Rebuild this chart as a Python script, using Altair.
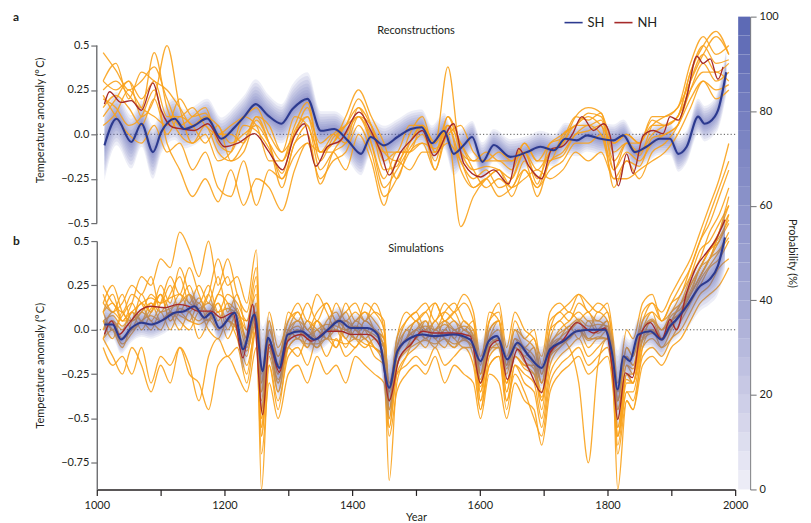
import altair as alt
import pandas as pd

ORANGE = "#f9a21b"
NAVY = "#2c3a8f"
RED = "#a52a2a"
BAND = "#5a66b3"
GRAY = "#6d6e71"
INK = "#231f20"
FONT = "Lato"

# ---------------- panel a : reconstructions ----------------
A_GRID = list(range(1010, 1991, 20))
A_RECON = {
    "R1": [0.46, 0.36, 0.25, 0.30, 0.38, 0.20, 0.05, 0.10, 0.15, -0.05,
           -0.10, 0.05, 0.02, -0.08, -0.22, 0.02, 0.10, -0.15, -0.02, 0.05,
           0.20, 0.05, -0.20, -0.18, 0.00, 0.10, -0.10, 0.05, -0.15, -0.25,
           -0.20, -0.30, -0.25, -0.10, -0.28, -0.05, -0.02, 0.10, 0.08, 0.12,
           -0.20, -0.05, -0.12, 0.05, 0.10, 0.15, 0.40, 0.55, 0.45, 0.50],
    "R2": [0.25, 0.30, 0.22, 0.15, 0.46, 0.15, 0.00, -0.05, 0.05, -0.10,
           -0.15, -0.10, 0.08, -0.05, -0.25, -0.05, 0.05, -0.20, -0.10, -0.05,
           0.15, -0.05, -0.30, -0.20, -0.08, 0.00, -0.15, 0.10, -0.05, -0.20,
           -0.30, -0.25, -0.30, -0.15, -0.35, -0.15, -0.10, 0.00, 0.05, 0.00,
           -0.25, -0.15, -0.18, -0.02, 0.00, 0.05, 0.30, 0.45, 0.35, 0.40],
    "R3": [0.10, 0.20, 0.30, 0.10, 0.20, 0.50, 0.15, -0.05, 0.00, -0.15,
           -0.10, 0.10, 0.05, -0.15, -0.15, 0.05, 0.18, -0.10, -0.05, 0.10,
           0.25, 0.10, -0.05, -0.25, -0.05, 0.05, -0.05, 0.38, -0.10, -0.15,
           -0.15, -0.15, -0.20, -0.05, -0.15, -0.15, 0.00, 0.05, 0.12, 0.10,
           -0.10, -0.05, -0.05, 0.08, 0.05, 0.10, 0.35, 0.50, 0.58, 0.45],
    "R4": [0.20, 0.15, 0.05, 0.10, 0.25, -0.05, -0.20, -0.35, -0.25, -0.38,
           -0.20, -0.40, -0.25, -0.30, -0.43, -0.20, -0.05, -0.25, -0.15, -0.10,
           0.05, -0.10, -0.35, -0.25, -0.10, -0.05, -0.20, 0.00, -0.52, -0.35,
           -0.25, -0.20, -0.35, -0.20, -0.30, -0.20, -0.15, -0.05, -0.05, 0.00,
           -0.20, -0.10, -0.15, -0.05, 0.00, 0.05, 0.20, 0.30, 0.20, 0.25],
    "R5": [0.30, 0.25, 0.30, 0.20, 0.30, 0.10, 0.10, 0.15, 0.05, 0.00,
           0.05, 0.10, 0.15, 0.00, -0.10, 0.10, 0.05, -0.10, 0.00, 0.05,
           0.10, 0.00, -0.10, -0.10, 0.05, 0.05, -0.05, 0.05, -0.05, -0.15,
           -0.10, -0.15, -0.15, -0.05, -0.15, -0.05, 0.00, 0.05, 0.10, 0.05,
           -0.05, 0.00, -0.05, 0.05, 0.05, 0.10, 0.25, 0.35, 0.35, 0.30],
    "R6": [0.15, 0.22, 0.15, 0.05, 0.20, 0.00, 0.10, 0.05, -0.05, 0.05,
           -0.15, -0.05, 0.10, -0.05, -0.30, -0.05, 0.00, -0.28, -0.10, 0.00,
           0.10, -0.05, -0.25, -0.10, -0.10, 0.05, -0.20, 0.05, -0.20, -0.30,
           -0.25, -0.35, -0.30, -0.20, -0.30, -0.15, -0.12, 0.00, 0.02, 0.05,
           -0.30, -0.15, -0.25, -0.10, -0.05, 0.05, 0.25, 0.40, 0.30, 0.35],
    "R7": [0.05, 0.12, 0.25, 0.15, 0.10, 0.05, 0.20, 0.10, 0.12, 0.00,
           0.00, -0.05, 0.10, 0.05, -0.10, 0.00, 0.10, -0.05, 0.00, -0.05,
           0.10, 0.05, -0.15, -0.10, -0.10, -0.05, -0.08, 0.00, 0.05, -0.10,
           -0.15, -0.10, -0.15, -0.10, -0.25, -0.10, -0.05, 0.10, 0.15, 0.12,
           -0.05, 0.00, -0.05, 0.10, 0.10, 0.15, 0.30, 0.45, 0.55, 0.45],
    "R8": [0.22, 0.10, 0.00, -0.05, 0.05, -0.10, -0.05, -0.20, -0.10, -0.30,
           -0.35, -0.15, -0.40, -0.20, -0.25, -0.12, -0.05, -0.10, -0.10, -0.20,
           0.00, -0.15, -0.40, -0.15, -0.20, -0.10, -0.10, -0.05, -0.15, -0.30,
           -0.25, -0.20, -0.30, -0.25, -0.20, -0.25, -0.20, -0.10, -0.15, -0.10,
           -0.25, -0.25, -0.20, -0.15, -0.10, 0.00, 0.15, 0.30, 0.25, 0.28],
    "R9": [0.30, 0.40, 0.20, 0.35, 0.30, 0.25, 0.15, 0.05, 0.10, 0.05,
           -0.05, 0.00, 0.05, -0.05, -0.15, 0.00, 0.15, -0.10, -0.05, 0.05,
           0.15, 0.05, -0.10, -0.15, -0.05, 0.05, -0.10, 0.10, -0.10, -0.20,
           -0.18, -0.20, -0.25, -0.10, -0.20, -0.10, -0.05, 0.05, 0.05, 0.08,
           -0.15, -0.05, -0.10, 0.00, 0.05, 0.10, 0.35, 0.50, 0.40, 0.42],
}
A_SH_YEARS = [1012, 1031, 1054, 1070, 1088, 1101, 1122, 1137, 1153, 1173,
              1195, 1216, 1231, 1249, 1268, 1289, 1307, 1330, 1351, 1372,
              1393, 1414, 1429, 1450, 1471, 1492, 1509, 1525, 1544, 1559,
              1575, 1588, 1604, 1622, 1648, 1674, 1695, 1716, 1734, 1752,
              1768, 1789, 1809, 1825, 1843, 1861, 1882, 1898, 1911, 1924,
              1942, 1952, 1968, 1973, 1986]
A_SH = [-0.062, 0.088, -0.043, 0.06, -0.10, 0.013, 0.088, 0.03, 0.05, 0.09,
        -0.025, 0.04, 0.10, 0.17, 0.107, 0.06, 0.144, 0.20, 0.02, 0.03,
        -0.034, -0.11, -0.015, -0.062, -0.015, 0.03, 0.04, -0.05, 0.02, -0.11,
        -0.06, -0.015, -0.155, -0.06, -0.127, -0.10, -0.07, -0.09, -0.025, -0.034,
        -0.006, -0.025, -0.034, -0.006, -0.10, -0.07, -0.025, -0.025, -0.11, -0.07,
        0.10, 0.06, 0.10, 0.135, 0.35]
A_SH_SPREAD = [0.20, 0.15, 0.15, 0.13, 0.15, 0.12, 0.12, 0.11, 0.11, 0.11,
               0.12, 0.12, 0.12, 0.14, 0.12, 0.11, 0.14, 0.15, 0.11, 0.10,
               0.11, 0.12, 0.10, 0.11, 0.10, 0.10, 0.10, 0.10, 0.10, 0.12,
               0.10, 0.09, 0.11, 0.09, 0.10, 0.09, 0.09, 0.09, 0.09, 0.09,
               0.09, 0.09, 0.09, 0.09, 0.10, 0.09, 0.09, 0.09, 0.10, 0.09,
               0.10, 0.10, 0.10, 0.11, 0.13]
A_NH_YEARS = [1012, 1020, 1038, 1054, 1070, 1088, 1101, 1119, 1135, 1153,
              1174, 1200, 1221, 1247, 1268, 1291, 1309, 1325, 1343, 1361,
              1382, 1411, 1429, 1445, 1458, 1476, 1492, 1510, 1528, 1559,
              1575, 1601, 1622, 1645, 1661, 1677, 1697, 1713, 1728, 1744,
              1760, 1778, 1794, 1804, 1817, 1830, 1840, 1856, 1872, 1887,
              1898, 1911, 1924, 1940, 1950, 1961, 1973, 1981]
A_NH = [0.17, 0.24, 0.18, 0.19, 0.135, 0.29, 0.135, 0.04, 0.03, 0.022,
        0.06, -0.07, -0.05, 0.004, -0.09, -0.20, -0.015, 0.06, -0.18, -0.07,
        -0.034, 0.125, 0.022, -0.10, -0.23, -0.10, -0.034, 0.022, -0.12, 0.06,
        -0.165, -0.24, -0.20, -0.28, -0.08, -0.18, -0.25, -0.08, -0.07, -0.006,
        0.10, 0.022, 0.06, -0.006, -0.29, -0.11, -0.22, -0.006, 0.022, 0.004,
        0.10, 0.08, 0.21, 0.44, 0.40, 0.425, 0.31, 0.38]

# ---------------- panel b : simulations ----------------
B_GRID = [1010, 1025, 1040, 1055, 1070, 1085, 1100, 1115, 1130, 1145,
          1160, 1175, 1190, 1205, 1220, 1235, 1250, 1258, 1270, 1284,
          1300, 1315, 1330, 1345, 1360, 1375, 1390, 1405, 1420, 1435,
          1450, 1458, 1470, 1485, 1500, 1515, 1530, 1545, 1560, 1575,
          1590, 1601, 1615, 1630, 1642, 1655, 1670, 1685, 1697, 1710,
          1725, 1740, 1755, 1770, 1785, 1800, 1809, 1816, 1830, 1840,
          1855, 1870, 1885, 1900, 1915, 1930, 1945, 1960, 1975, 1990]
B_SIMS = {
    "S1": [0.10, 0.20, 0.05, 0.15, 0.30, 0.25, 0.40, 0.35, 0.55, 0.45,
           0.30, 0.50, 0.25, 0.40, 0.20, 0.10, 0.35, -0.30, 0.10, -0.10,
           0.05, 0.15, 0.05, 0.20, 0.10, 0.00, 0.15, 0.05, 0.10, 0.00,
           -0.05, -0.35, -0.05, 0.05, 0.10, 0.00, 0.15, 0.05, 0.10, 0.00,
           0.05, -0.25, 0.05, 0.10, -0.15, 0.00, -0.05, -0.10, -0.30, 0.00,
           0.10, 0.05, 0.15, 0.10, 0.05, 0.10, -0.10, -0.40, -0.10, -0.15,
           0.05, 0.15, 0.05, 0.15, 0.20, 0.35, 0.50, 0.60, 0.75, 0.90],
    "S2": [-0.10, -0.20, -0.15, -0.25, -0.10, -0.30, -0.15, -0.20, -0.10, -0.25,
           -0.30, -0.45, -0.20, -0.15, -0.25, -0.35, -0.10, -0.70, -0.30, -0.50,
           -0.25, -0.20, -0.30, -0.15, -0.25, -0.20, -0.30, -0.15, -0.20, -0.25,
           -0.30, -0.60, -0.35, -0.25, -0.20, -0.25, -0.15, -0.30, -0.20, -0.25,
           -0.30, -0.50, -0.25, -0.30, -0.50, -0.30, -0.40, -0.45, -0.65, -0.35,
           -0.25, -0.20, -0.15, -0.25, -0.20, -0.15, -0.35, -0.70, -0.40, -0.45,
           -0.20, -0.15, -0.20, -0.10, -0.05, 0.05, 0.15, 0.20, 0.25, 0.35],
    "S3": [0.05, 0.00, -0.10, 0.05, 0.15, 0.10, 0.20, 0.05, 0.15, 0.25,
           0.10, 0.05, 0.20, 0.15, 0.00, -0.15, 0.15, -0.55, -0.10, -0.30,
           -0.05, 0.00, -0.10, 0.05, 0.00, 0.05, -0.05, 0.05, 0.00, -0.10,
           -0.15, -0.50, -0.20, -0.10, 0.00, 0.05, -0.05, 0.05, 0.00, -0.05,
           -0.10, -0.35, -0.10, -0.05, -0.35, -0.15, -0.20, -0.25, -0.40, -0.15,
           -0.05, 0.00, 0.05, -0.05, 0.00, 0.05, -0.25, -0.60, -0.30, -0.30,
           -0.05, 0.05, -0.05, 0.05, 0.15, 0.30, 0.45, 0.50, 0.60, 0.70],
    "S4": [0.15, 0.10, 0.20, 0.05, 0.10, 0.20, 0.15, 0.25, 0.10, 0.20,
           0.15, 0.25, 0.10, 0.20, 0.15, 0.05, 0.20, -0.40, 0.00, -0.15,
           0.00, 0.05, 0.00, -0.05, 0.05, 0.10, 0.00, 0.05, 0.10, 0.05,
           -0.05, -0.45, -0.15, -0.05, 0.05, 0.00, 0.05, 0.10, 0.05, 0.00,
           -0.05, -0.30, 0.00, 0.05, -0.25, -0.05, -0.10, -0.15, -0.30, -0.10,
           0.00, 0.05, 0.10, 0.05, 0.05, 0.00, -0.20, -0.45, -0.20, -0.25,
           0.00, 0.05, 0.00, 0.10, 0.15, 0.25, 0.35, 0.45, 0.50, 0.65],
    "S5": [0.00, 0.05, 0.00, 0.10, 0.05, 0.15, 0.05, 0.10, 0.20, 0.10,
           0.05, 0.10, 0.00, 0.05, -0.05, -0.25, 0.05, -0.90, -0.20, -0.45,
           -0.10, -0.05, -0.10, 0.00, -0.05, 0.00, -0.10, 0.00, -0.05, -0.10,
           -0.20, -0.85, -0.30, -0.15, -0.05, -0.10, 0.00, -0.05, -0.10, -0.05,
           -0.15, -0.45, -0.15, -0.10, -0.40, -0.20, -0.25, -0.30, -0.50, -0.20,
           -0.10, -0.05, 0.00, -0.10, -0.05, -0.05, -0.30, -0.90, -0.40, -0.45,
           -0.10, 0.00, -0.10, 0.00, 0.10, 0.20, 0.30, 0.40, 0.50, 0.60],
    "S6": [0.20, 0.10, 0.15, 0.25, 0.20, 0.30, 0.10, 0.20, 0.30, 0.15,
           0.25, 0.15, 0.30, 0.10, 0.20, 0.00, 0.25, -0.35, 0.05, -0.20,
           0.10, 0.05, 0.15, 0.05, 0.15, 0.05, 0.10, 0.15, 0.05, 0.10,
           0.05, -0.40, -0.10, 0.05, 0.10, 0.15, 0.05, 0.15, 0.10, 0.15,
           0.05, -0.20, 0.10, 0.05, -0.20, 0.05, -0.05, 0.00, -0.20, 0.05,
           0.10, 0.15, 0.20, 0.10, 0.15, 0.10, -0.10, -0.40, -0.10, -0.15,
           0.10, 0.15, 0.10, 0.20, 0.30, 0.40, 0.55, 0.70, 0.85, 1.05],
    "S7": [-0.05, 0.05, -0.05, 0.00, 0.10, 0.05, 0.00, 0.10, 0.05, 0.00,
           0.10, 0.00, -0.05, 0.05, 0.00, -0.20, 0.00, -0.60, -0.15, -0.35,
           -0.10, -0.15, -0.05, -0.10, -0.05, -0.10, 0.00, -0.05, -0.10, -0.05,
           -0.15, -0.55, -0.25, -0.15, -0.10, -0.05, -0.10, 0.00, -0.05, -0.10,
           -0.10, -0.40, -0.20, -0.15, -0.45, -0.20, -0.30, -0.35, -0.55, -0.25,
           -0.15, -0.10, -0.05, -0.15, -0.10, -0.05, -0.30, -0.65, -0.35, -0.35,
           -0.10, -0.05, -0.10, -0.05, 0.05, 0.15, 0.25, 0.35, 0.40, 0.50],
    "S8": [0.10, 0.15, 0.05, 0.10, 0.00, 0.10, 0.20, 0.10, 0.00, 0.10,
           -0.05, 0.05, 0.15, 0.00, 0.10, -0.05, 0.10, -0.50, -0.05, -0.25,
           0.00, -0.05, 0.05, -0.05, 0.00, -0.10, 0.05, 0.00, -0.05, 0.00,
           -0.10, -0.45, -0.15, -0.05, 0.00, -0.05, 0.05, -0.05, -0.10, 0.00,
           -0.05, -0.30, -0.05, -0.10, -0.30, -0.10, -0.15, -0.20, -0.35, -0.10,
           -0.05, -0.10, -0.30, -0.75, -0.20, -0.05, -0.25, -0.55, -0.25, -0.30,
           -0.05, 0.05, 0.00, 0.05, 0.10, 0.20, 0.35, 0.40, 0.55, 0.70],
    "S9": [-0.05, -0.15, -0.25, -0.10, -0.20, -0.35, -0.20, -0.30, -0.10, -0.20,
           -0.40, -0.15, -0.05, -0.15, -0.10, -0.30, 0.00, -0.60, -0.20, -0.40,
           -0.15, -0.10, -0.20, -0.05, -0.15, -0.05, -0.15, -0.10, -0.05, -0.15,
           -0.20, -0.55, -0.25, -0.20, -0.15, -0.20, -0.10, -0.20, -0.15, -0.10,
           -0.20, -0.45, -0.20, -0.15, -0.40, -0.25, -0.35, -0.50, -0.60, -0.30,
           -0.20, -0.15, -0.10, -0.20, -0.15, -0.10, -0.30, -0.60, -0.35, -0.40,
           -0.15, -0.10, -0.15, -0.05, 0.00, 0.10, 0.20, 0.25, 0.35, 0.40],
    "S10": [0.25, 0.15, 0.10, 0.20, 0.15, 0.05, 0.15, 0.30, 0.20, 0.35,
            0.20, 0.10, 0.20, 0.30, 0.10, 0.05, 0.30, -0.30, 0.00, -0.15,
            0.05, 0.10, 0.00, 0.10, 0.15, 0.05, 0.10, 0.00, 0.15, 0.10,
            0.00, -0.35, -0.05, 0.10, 0.05, 0.10, 0.15, 0.05, 0.10, 0.20,
            0.10, -0.15, 0.05, 0.15, -0.10, 0.10, 0.00, -0.05, -0.15, 0.10,
            0.15, 0.10, 0.20, 0.15, 0.10, 0.15, -0.05, -0.30, 0.00, -0.05,
            0.15, 0.20, 0.05, 0.15, 0.25, 0.35, 0.50, 0.65, 0.80, 0.95],
    "S11": [0.05, -0.05, 0.10, 0.00, 0.05, 0.00, 0.10, 0.00, 0.10, 0.05,
            0.15, 0.05, 0.10, -0.05, 0.05, -0.10, 0.10, -0.45, -0.10, -0.30,
            -0.05, 0.00, -0.05, -0.10, 0.00, 0.00, -0.05, -0.10, 0.00, -0.05,
            -0.10, -0.40, -0.20, -0.10, -0.05, 0.00, -0.05, -0.10, 0.00, -0.05,
            -0.05, -0.35, -0.10, -0.10, -0.30, -0.15, -0.20, -0.20, -0.40, -0.15,
            -0.10, -0.05, 0.00, -0.05, -0.05, 0.00, -0.20, -0.50, -0.25, -0.25,
            -0.05, 0.00, -0.05, 0.05, 0.10, 0.20, 0.30, 0.40, 0.45, 0.55],
    "S12": [0.15, 0.25, 0.10, 0.05, 0.20, 0.10, 0.25, 0.15, 0.35, 0.20,
            0.10, 0.20, 0.40, 0.25, 0.30, 0.15, 0.45, -0.25, 0.05, -0.20,
            0.00, 0.10, 0.00, 0.05, 0.00, 0.15, 0.05, 0.10, 0.05, 0.15,
            0.00, -0.30, -0.10, 0.00, 0.05, 0.10, 0.00, 0.10, 0.15, 0.05,
            0.00, -0.25, 0.00, 0.05, -0.20, 0.00, -0.10, -0.05, -0.25, 0.00,
            0.05, 0.10, 0.05, 0.00, 0.10, 0.05, -0.15, -0.35, -0.15, -0.20,
            0.05, 0.10, 0.05, 0.10, 0.20, 0.30, 0.40, 0.55, 0.65, 0.80],
    "S13": [0.05, 0.08, 0.02, 0.10, 0.15, 0.18, 0.15, 0.18, 0.20, 0.15,
            0.12, 0.15, 0.10, 0.12, 0.08, -0.05, 0.15, -0.45, -0.05, -0.20,
            -0.02, 0.02, -0.03, 0.00, 0.03, 0.02, 0.00, 0.02, 0.00, -0.03,
            -0.08, -0.40, -0.12, -0.05, 0.00, 0.02, 0.00, 0.03, 0.00, 0.02,
            -0.03, -0.28, -0.05, 0.00, -0.22, -0.08, -0.12, -0.18, -0.30, -0.08,
            -0.02, 0.02, 0.06, 0.02, 0.03, 0.02, -0.18, -0.45, -0.20, -0.22,
            0.00, 0.06, 0.00, 0.08, 0.12, 0.22, 0.35, 0.45, 0.52, 0.62],
    "S14": [-0.05, 0.00, -0.08, -0.02, 0.05, 0.08, 0.05, 0.10, 0.08, 0.05,
            0.03, 0.06, 0.00, 0.05, 0.00, -0.12, 0.05, -0.50, -0.12, -0.28,
            -0.10, -0.05, -0.08, -0.08, -0.05, -0.06, -0.08, -0.05, -0.08, -0.10,
            -0.15, -0.45, -0.20, -0.12, -0.08, -0.06, -0.08, -0.05, -0.08, -0.06,
            -0.10, -0.32, -0.12, -0.08, -0.30, -0.15, -0.22, -0.25, -0.38, -0.15,
            -0.08, -0.05, 0.00, -0.06, -0.04, -0.05, -0.22, -0.55, -0.28, -0.30,
            -0.06, -0.02, -0.06, 0.02, 0.08, 0.16, 0.28, 0.36, 0.44, 0.52],
    "S15": [0.00, 0.10, 0.05, 0.05, 0.10, 0.15, 0.10, 0.12, 0.15, 0.20,
            0.10, 0.20, 0.05, 0.15, 0.10, 0.00, 0.10, -0.35, -0.05, -0.25,
            0.00, -0.05, 0.05, 0.00, -0.05, 0.05, 0.00, -0.05, 0.05, 0.00,
            -0.05, -0.30, -0.15, 0.00, -0.05, 0.05, -0.05, 0.00, 0.05, -0.05,
            0.00, -0.25, -0.05, 0.05, -0.20, -0.05, -0.15, -0.10, -0.25, -0.05,
            0.05, 0.00, 0.05, 0.10, 0.00, 0.05, -0.15, -0.40, -0.15, -0.20,
            0.00, 0.10, -0.05, 0.05, 0.15, 0.20, 0.30, 0.40, 0.55, 0.75],
    "S16": [0.10, 0.00, 0.08, 0.15, 0.05, 0.12, 0.20, 0.05, 0.12, 0.10,
            0.18, 0.08, 0.15, 0.05, 0.12, -0.08, 0.08, -0.55, -0.08, -0.35,
            -0.05, 0.05, -0.05, 0.05, -0.05, 0.05, 0.05, -0.05, 0.05, 0.00,
            -0.10, -0.50, -0.15, -0.05, 0.05, -0.05, 0.00, 0.05, -0.05, 0.05,
            -0.05, -0.40, -0.08, -0.05, -0.35, -0.10, -0.18, -0.22, -0.45, -0.12,
            -0.05, 0.02, -0.05, 0.05, -0.02, 0.02, -0.25, -0.60, -0.25, -0.30,
            0.00, 0.00, -0.05, 0.05, 0.10, 0.25, 0.35, 0.45, 0.55, 0.65],
}
B_SH_YEARS = [1012, 1025, 1038, 1054, 1070, 1085, 1101, 1122, 1137, 1153,
              1169, 1179, 1192, 1216, 1229, 1247, 1260, 1268, 1286, 1299,
              1320, 1341, 1362, 1380, 1398, 1424, 1440, 1458, 1471, 1492,
              1510, 1528, 1559, 1585, 1601, 1614, 1627, 1643, 1659, 1677,
              1697, 1710, 1731, 1752, 1778, 1796, 1807, 1816, 1825, 1835,
              1848, 1867, 1885, 1898, 1908, 1924, 1945, 1960, 1973, 1984]
B_SH = [0.03, 0.03, -0.055, 0.01, 0.04, 0.03, 0.05, 0.096, 0.105, 0.133,
        0.068, 0.096, 0.01, 0.096, -0.11, 0.086, -0.233, -0.045, -0.215, -0.027,
        -0.008, -0.055, 0.0, 0.05, 0.01, 0.01, -0.027, -0.327, -0.12, -0.045,
        -0.027, -0.036, -0.027, -0.055, -0.177, -0.064, -0.036, -0.167, -0.073, -0.149,
        -0.215, -0.11, -0.064, -0.008, 0.0, 0.0, -0.13, -0.337, -0.149, -0.177,
        -0.027, -0.008, -0.055, 0.02, 0.058, 0.133, 0.246, 0.284, 0.36, 0.52]
B_SH_SPREAD = [0.12, 0.08, 0.08, 0.08, 0.08, 0.08, 0.08, 0.08, 0.08, 0.09,
               0.08, 0.08, 0.08, 0.09, 0.12, 0.09, 0.25, 0.12, 0.18, 0.09,
               0.08, 0.08, 0.08, 0.08, 0.08, 0.08, 0.09, 0.18, 0.10, 0.08,
               0.08, 0.08, 0.08, 0.08, 0.12, 0.09, 0.08, 0.11, 0.09, 0.10,
               0.12, 0.09, 0.08, 0.08, 0.08, 0.08, 0.12, 0.22, 0.12, 0.12,
               0.09, 0.09, 0.10, 0.10, 0.11, 0.13, 0.14, 0.14, 0.16, 0.18]
B_NH_YEARS = [1012, 1023, 1035, 1049, 1070, 1085, 1106, 1127, 1143, 1158,
              1179, 1195, 1213, 1229, 1244, 1260, 1270, 1286, 1299, 1320,
              1336, 1362, 1383, 1398, 1424, 1445, 1458, 1474, 1492, 1510,
              1528, 1559, 1585, 1601, 1617, 1630, 1643, 1659, 1677, 1697,
              1710, 1731, 1752, 1778, 1796, 1807, 1816, 1828, 1839, 1851,
              1867, 1885, 1898, 1908, 1924, 1940, 1955, 1970, 1984]
B_NH = [-0.026, 0.05, -0.026, 0.03, 0.115, 0.133, 0.124, 0.143, 0.133, 0.105,
        0.105, 0.068, 0.096, -0.158, 0.143, -0.478, -0.083, -0.24, -0.064, -0.027,
        -0.064, -0.008, -0.008, -0.026, -0.026, -0.10, -0.40, -0.158, -0.083, -0.008,
        -0.018, -0.018, -0.036, -0.30, -0.09, -0.06, -0.28, -0.11, -0.224, -0.355,
        -0.13, -0.055, 0.04, -0.018, 0.01, -0.205, -0.506, -0.243, -0.27, -0.036,
        0.04, -0.055, 0.058, 0.0, 0.209, 0.36, 0.434, 0.51, 0.62]

# ---------------- colour bar ----------------
PROB_LO = list(range(0, 100, 4))
PROB_HI = list(range(4, 101, 4))
PROB_TICKS = [0, 20, 40, 60, 80, 100]


def long_df(grid, series):
    rows = []
    for name, vals in series.items():
        for yr, v in zip(grid, vals):
            rows.append({"year": yr, "value": v, "series": name})
    return pd.DataFrame(rows)


recon_df = long_df(A_GRID, A_RECON)
sims_df = long_df(B_GRID, B_SIMS)
sh_a_df = pd.DataFrame({"year": A_SH_YEARS, "value": A_SH, "spread": A_SH_SPREAD, "hem": "SH"})
nh_a_df = pd.DataFrame({"year": A_NH_YEARS, "value": A_NH, "hem": "NH"})
sh_b_df = pd.DataFrame({"year": B_SH_YEARS, "value": B_SH, "spread": B_SH_SPREAD, "hem": "SH"})
nh_b_df = pd.DataFrame({"year": B_NH_YEARS, "value": B_NH, "hem": "NH"})

XSCALE = alt.Scale(domain=[1000, 2000], nice=False, zero=False)
LBL = "datum.value === 0 ? '0.0' : (datum.value < 0 ? '\u2212' : '') + format(abs(datum.value), '.2~f')"
YTITLE = "Temperature anomaly (\u00b0\u2009C)"

COLOR_SCALE = alt.Scale(domain=["SH", "NH"], range=[NAVY, RED])
LEGEND = alt.Legend(orient="none", legendX=468, legendY=-4, direction="horizontal", title=None,
                    symbolType="stroke", symbolStrokeWidth=1.6, symbolSize=330,
                    labelFont=FONT, labelFontSize=13, labelColor=INK,
                    columnPadding=6, labelOffset=4)

BANDS = [(1.0, 0.11), (0.86, 0.11), (0.72, 0.11), (0.58, 0.11),
         (0.45, 0.11), (0.33, 0.11), (0.22, 0.11), (0.12, 0.11)]


def panel(orange_df, sh_df, nh_df, yscale, yaxis, xaxis, label, title_text, title_y,
          orange_on_top, with_rule):
    def X():
        return alt.X("year:Q", scale=XSCALE, axis=xaxis)

    def Y(field):
        return alt.Y(field, scale=yscale, axis=yaxis)

    bands = []
    for k, op in BANDS:
        bands.append(
            alt.Chart(sh_df).transform_calculate(
                lo=f"datum.value - {k} * datum.spread",
                hi=f"datum.value + {k} * datum.spread",
            ).mark_area(color=BAND, opacity=op, interpolate="monotone", clip=False)
            .encode(x=X(), y=Y("lo:Q"), y2="hi:Q")
        )
    zero = alt.Chart(pd.DataFrame({"v": [0.0]})).mark_rule(
        color="#555555", strokeDash=[1.2, 2.2], strokeWidth=1
    ).encode(y=Y("v:Q"))
    oranges = alt.Chart(orange_df).mark_line(
        color=ORANGE, strokeWidth=1.3, opacity=0.9, interpolate="monotone", clip=False
    ).encode(x=X(), y=Y("value:Q"), detail="series:N")
    nh = alt.Chart(nh_df).mark_line(strokeWidth=1.4, interpolate="monotone", clip=False).encode(
        x=X(), y=Y("value:Q"), color=alt.Color("hem:N", scale=COLOR_SCALE, legend=LEGEND)
    )
    sh = alt.Chart(sh_df).mark_line(strokeWidth=2.1, interpolate="monotone", clip=False).encode(
        x=X(), y=Y("value:Q"), color=alt.Color("hem:N", scale=COLOR_SCALE, legend=LEGEND)
    )
    lab = alt.Chart(pd.DataFrame({"t": [label]})).mark_text(
        font=FONT, fontSize=12, fontWeight="bold", align="left", baseline="middle", color=INK
    ).encode(text="t:N", x=alt.value(-84), y=alt.value(0))
    ttl = alt.Chart(pd.DataFrame({"t": [title_text]})).mark_text(
        font=FONT, fontSize=11, align="center", baseline="middle", color=INK
    ).encode(text="t:N", x=alt.value(320), y=alt.value(title_y))

    layers = [zero]
    if orange_on_top:
        layers += bands + [oranges]
    else:
        layers += [oranges] + bands
    layers += [nh, sh, lab, ttl]
    if with_rule:
        rule = alt.Chart(pd.DataFrame({"lo": [-0.5], "hi": [0.5]})).mark_rule(
            color=GRAY, strokeWidth=1.4
        ).encode(x=alt.value(0), y=Y("lo:Q"), y2="hi:Q")
        layers.append(rule)
    return alt.layer(*layers)


YA = alt.Scale(domain=[-0.5, 0.663], nice=False, zero=False)
YB = alt.Scale(domain=[-0.9, 0.5], nice=False, zero=False)
AX_A = alt.Axis(values=[-0.5, -0.25, 0, 0.25, 0.5], labelExpr=LBL, domain=False, grid=False,
                tickSize=6, tickColor=GRAY, tickWidth=1.2, title=YTITLE, titlePadding=15)
AX_B = alt.Axis(values=[-0.75, -0.5, -0.25, 0, 0.25, 0.5], labelExpr=LBL, domain=True, grid=False,
                domainColor=GRAY, domainWidth=1.4, tickSize=6, tickColor=GRAY, tickWidth=1.2,
                title=YTITLE, titlePadding=15)
AX_X = alt.Axis(values=list(range(1000, 2001, 100)),
                labelExpr="datum.value % 200 === 0 ? format(datum.value, 'd') : ''",
                grid=False, tickSize=6, tickColor=INK, tickWidth=1.2, domainColor=INK,
                domainWidth=1.5, labelPadding=4, title="Year", titlePadding=1, labelFlush=False)

layers_a = panel(recon_df, sh_a_df, nh_a_df, YA, AX_A, None, "a", "Reconstructions", 14,
                 True, True)
layers_b = panel(sims_df, sh_b_df, nh_b_df, YB, AX_B, AX_X, "b", "Simulations", 8,
                 False, False)

# colour bar spanning both panels, drawn through its own probability scale
cbar = alt.Chart(pd.DataFrame({"lo": PROB_LO, "hi": PROB_HI})).transform_calculate(
    mid="(datum.lo + datum.hi) / 2"
).mark_rect().encode(
    x=alt.value(643), x2=alt.value(655),
    y=alt.Y("lo:Q", scale=alt.Scale(domain=[0, 100], range=[474, 0], nice=False),
            axis=alt.Axis(orient="right", offset=15, values=PROB_TICKS, grid=False,
                          tickSize=6, tickColor=GRAY, domainColor=GRAY, domainWidth=1,
                          title="Probability (%)", titlePadding=8, labelPadding=3)),
    y2="hi:Q",
    fill=alt.Fill("mid:Q", scale=alt.Scale(domain=[0, 40, 100],
                                           range=["#f0f0f8", "#a4a9d4", "#5a68b4"]),
                  legend=None),
)

panel_a = alt.layer(layers_a, cbar).resolve_scale(y="independent").properties(width=640, height=207)
panel_b = layers_b.properties(width=640, height=249)

chart = alt.vconcat(panel_a, panel_b, spacing=18, bounds="flush").properties(
    padding={"left": 5, "top": 2, "right": 5, "bottom": 5}
).configure_view(stroke=None).configure_axis(
    labelFont=FONT, titleFont=FONT, labelFontSize=11, titleFontSize=11,
    labelColor=INK, titleColor=INK, titleFontWeight="normal"
)

chart.save("out.html", embed_options={"renderer": "svg", "actions": False})
